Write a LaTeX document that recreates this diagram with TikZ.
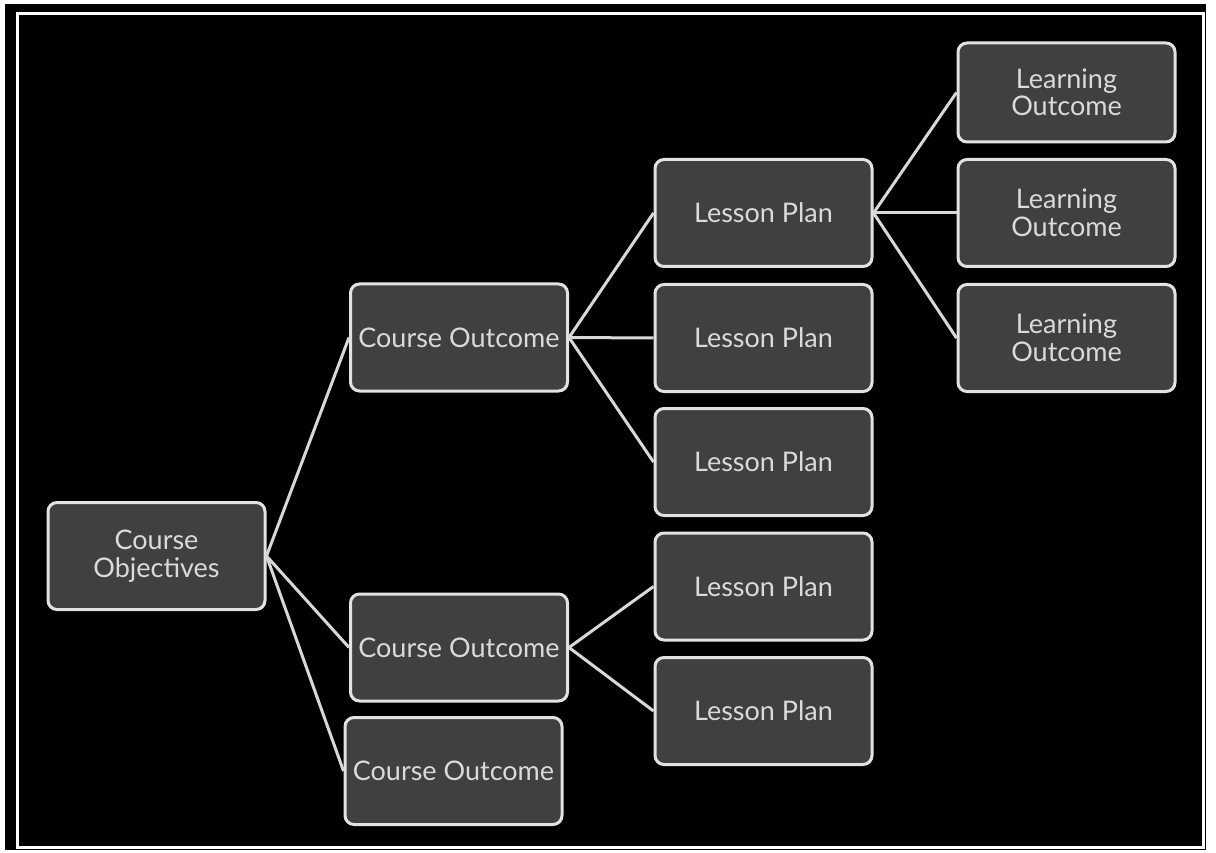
\documentclass[tikz,border=0pt]{standalone}
\usepackage{fontspec}
\setmainfont{Lato}
\definecolor{boxfill}{HTML}{404040}
\definecolor{boxline}{HTML}{E2E2E2}
\definecolor{boxtext}{HTML}{DADADA}
\definecolor{linkline}{HTML}{D8D8D8}
\tikzset{
  box/.style={draw=boxline, line width=3pt, fill=boxfill, rounded corners=9pt,
    minimum width=217pt, minimum height=107pt, inner sep=0pt, align=center,
    text=boxtext, font=\fontsize{27}{27.5}\selectfont},
  link/.style={draw=linkline, line width=3pt}
}
\begin{document}
\begin{tikzpicture}[x=1pt,y=-1pt]
  % page and frame
  \fill[white] (0,0) rectangle (1216,853);
  \useasboundingbox (0,0) rectangle (1216,853);
  \fill[black] (5,4) rectangle (1206,850);
  \draw[white, line width=3pt] (17.5,13.5) rectangle (1203,847.5);

  % root
  \node[box] (obj) at (156.5,556) {Course\\Objectives};

  % course outcomes
  \node[box] (co1) at (459,337.5) {Course Outcome};
  \node[box] (co2) at (459,647.5) {Course Outcome};
  \node[box] (co3) at (453.5,771) {Course Outcome};

  % lesson plans
  \node[box] (lp1) at (763.5,213) {Lesson Plan};
  \node[box] (lp2) at (763.5,338) {Lesson Plan};
  \node[box] (lp3) at (763.5,462) {Lesson Plan};
  \node[box] (lp4) at (763.5,586.5) {Lesson Plan};
  \node[box] (lp5) at (763.5,711) {Lesson Plan};

  % learning outcomes
  \node[box, minimum height=99pt] (lo1) at (1066.5,92.5) {Learning\\Outcome};
  \node[box] (lo2) at (1066.5,213) {Learning\\Outcome};
  \node[box] (lo3) at (1066.5,338) {Learning\\Outcome};

  % connectors
  \draw[link] (obj.east) -- (co1.west);
  \draw[link] (obj.east) -- (co2.west);
  \draw[link] (obj.east) -- (co3.west);
  \draw[link] (co1.east) -- (lp1.west);
  \draw[link] (co1.east) -- (lp2.west);
  \draw[link] (co1.east) -- (lp3.west);
  \draw[link] (co2.east) -- (lp4.west);
  \draw[link] (co2.east) -- (lp5.west);
  \draw[link] (lp1.east) -- (lo1.west);
  \draw[link] (lp1.east) -- (lo2.west);
  \draw[link] (lp1.east) -- (lo3.west);
\end{tikzpicture}
\end{document}
